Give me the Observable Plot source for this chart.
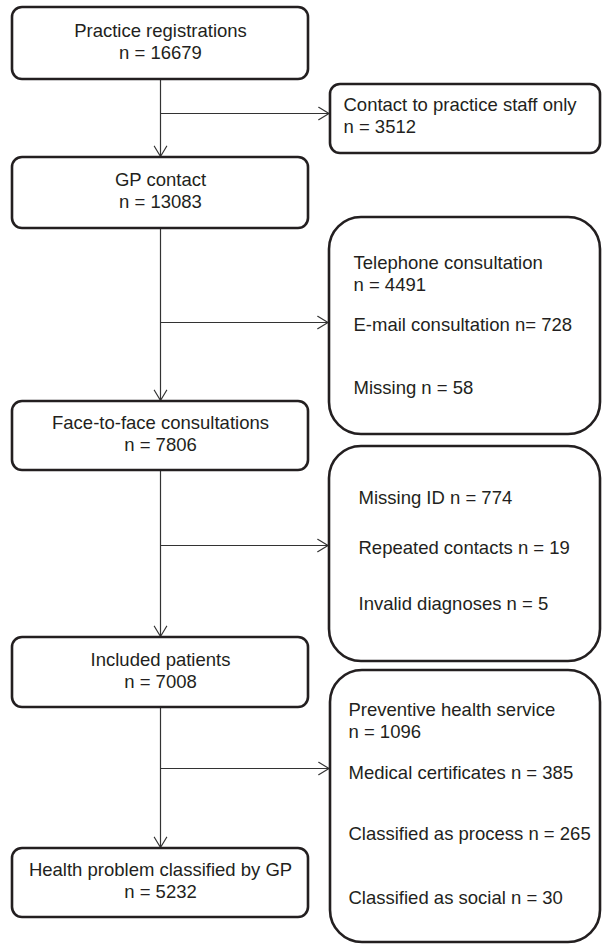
<!DOCTYPE html>
<html>
<head>
<meta charset="utf-8">
<script src="https://cdn.jsdelivr.net/npm/d3@7"></script>
<script src="https://cdn.jsdelivr.net/npm/@observablehq/plot@0.6"></script>
<style>
  html, body { margin: 0; padding: 0; background: #fff; }
  #chart svg { display: block; }
</style>
</head>
<body>
<div id="chart"></div>
<script>
// ---- data ----
const stageLabels = ["Practice registrations", "GP contact", "Face-to-face consultations", "Included patients", "Health problem classified by GP"];
const stageCounts = [16679, 13083, 7806, 7008, 5232];

// exclusions, grouped by the step they branch from
const exclGroup  = [0, 1, 1, 1, 2, 2, 2, 3, 3, 3, 3];
const exclLabels = ["Contact to practice staff only", "Telephone consultation", "E-mail consultation", "Missing",
                    "Missing ID", "Repeated contacts", "Invalid diagnoses",
                    "Preventive health service", "Medical certificates", "Classified as process", "Classified as social"];
const exclCounts = [3512, 4491, 728, 58, 774, 19, 5, 1096, 385, 265, 30];
const exclJoin   = ["\nn = ", "\nn = ", " n= ", " n = ", " n = ", " n = ", " n = ", "\nn = ", " n = ", " n = ", " n = "];

// ---- layout (pixel units of the page) ----
const mainX = [12, 308], mainCX = 160;
const mainY = [[7, 79], [157, 228], [401, 470], [637, 707], [848, 917]];
const sideX = [[330, 600], [329, 600], [329, 600], [330, 600]];
const sideY = [[84, 153], [217, 434], [446, 661], [670, 942]];
const sideR = [10, 32, 32, 32];
const sideTextX = [343, 353, 358, 348];
const exclTextY = [114.5, 272, 323, 386, 496, 546, 602, 719, 771, 832, 896];
const branchY = [113, 322, 545, 768];

const ink = "#231f20";
const font = "Liberation Sans, Arial, Helvetica, sans-serif";
const fs = 18.5;

const mainBoxes = stageLabels.map((label, i) => ({
  x1: mainX[0], x2: mainX[1], y1: mainY[i][0], y2: mainY[i][1],
  text: `${label}\nn = ${stageCounts[i]}`, ty: (mainY[i][0] + mainY[i][1]) / 2 - 3
}));
const sideBoxes = sideY.map((y, i) => ({x1: sideX[i][0], x2: sideX[i][1], y1: y[0], y2: y[1], r: sideR[i]}));
const exclTexts = exclLabels.map((l, i) => ({
  text: l + exclJoin[i] + exclCounts[i], x: sideTextX[exclGroup[i]], y: exclTextY[i]
}));
const downArrows = mainBoxes.slice(0, -1).map((b, i) => ({x1: mainCX, y1: b.y2, x2: mainCX, y2: mainBoxes[i + 1].y1 - 1}));
const sideArrows = branchY.map((y, i) => ({x1: mainCX, y1: y, x2: sideX[i][0] - 1.5, y2: y}));

const arrowOpts = {stroke: "#333", strokeWidth: 1.2, headLength: 15, headAngle: 62};

const chart = Plot.plot({
  width: 602, height: 945, margin: 0,
  x: {domain: [0, 602], range: [0, 602], axis: null},
  y: {domain: [0, 945], range: [0, 945], axis: null},
  marks: [
    Plot.arrow(downArrows, {x1: "x1", y1: "y1", x2: "x2", y2: "y2", ...arrowOpts}),
    Plot.arrow(sideArrows, {x1: "x1", y1: "y1", x2: "x2", y2: "y2", ...arrowOpts}),
    Plot.rect(mainBoxes, {x1: "x1", x2: "x2", y1: "y1", y2: "y2", rx: 10, ry: 10, fill: "white", stroke: ink, strokeWidth: 2.6}),
    Plot.rect(sideBoxes.filter(d => d.r === 10), {x1: "x1", x2: "x2", y1: "y1", y2: "y2", rx: 10, ry: 10, fill: "white", stroke: ink, strokeWidth: 2.6}),
    Plot.rect(sideBoxes.filter(d => d.r === 32), {x1: "x1", x2: "x2", y1: "y1", y2: "y2", rx: 32, ry: 32, fill: "white", stroke: ink, strokeWidth: 2.6}),
    Plot.text(mainBoxes, {x: mainCX, y: "ty", text: "text", textAnchor: "middle", lineAnchor: "middle", lineHeight: 1.2,
      fontSize: fs, fontFamily: font, fill: ink}),
    Plot.text(exclTexts, {x: "x", y: "y", text: "text", textAnchor: "start", lineAnchor: "middle", lineHeight: 1.2,
      fontSize: fs, fontFamily: font, fill: ink})
  ]
});
document.getElementById("chart").append(chart);
</script>
</body>
</html>
